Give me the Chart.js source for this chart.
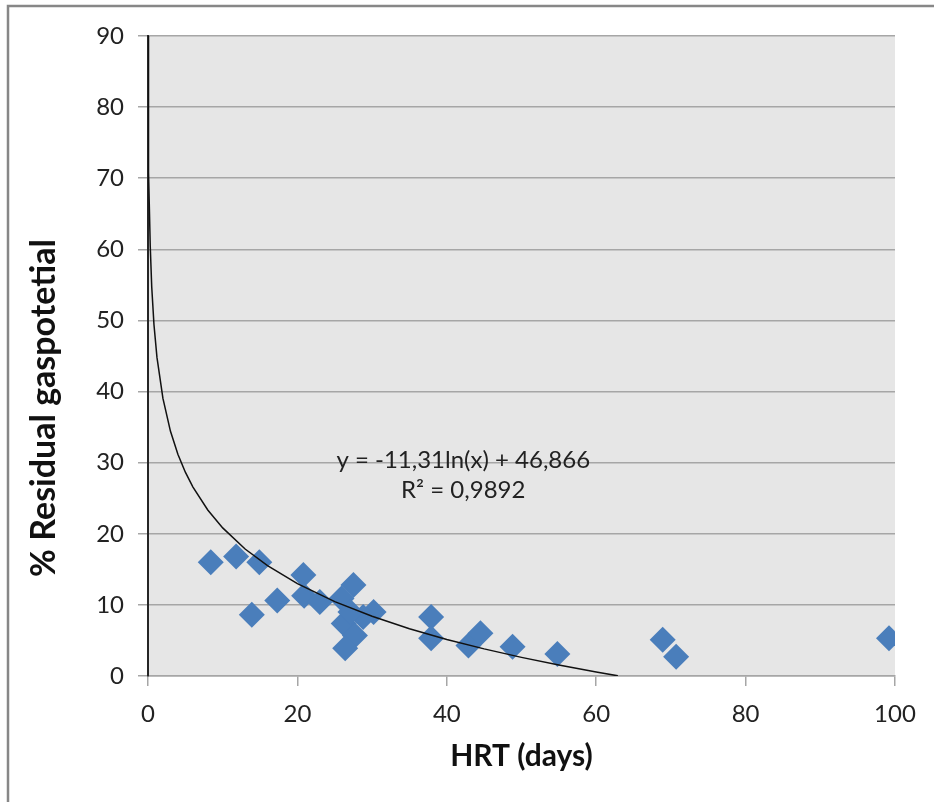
<!DOCTYPE html>
<html lang="en">
  <head>
    <meta charset="UTF-8" />
    <title>Residual gas potential vs HRT</title>
    <style>
      html, body { margin: 0; padding: 0; background: #fff; }
      .wrap { position: relative; width: 934px; height: 802px; }
    </style>
  </head>
  <body>
    <div class="wrap">
      <canvas id="hrtChart" width="934" height="802"></canvas>
    </div>

    <script src="https://cdn.jsdelivr.net/npm/chart.js@4.4.0/dist/chart.umd.min.js"></script>
    <script>
      // Observed points
      const hrtDays = [8.4, 11.8, 14.9, 13.9, 17.3, 20.8, 20.9, 23.0, 27.5, 25.9, 26.2, 27.7, 26.4, 30.2, 28.8, 27.1, 37.9, 37.9, 42.9, 44.5, 48.8, 54.8, 68.9, 70.7, 99.2];
      const residualGas = [16.0, 16.8, 16.0, 8.6, 10.6, 14.2, 11.3, 10.4, 12.8, 10.9, 7.4, 5.7, 3.9, 9.0, 8.3, 9.0, 8.3, 5.3, 4.3, 6.0, 4.1, 3.1, 5.1, 2.7, 5.3];

      // Log trendline as printed on the chart
      const trendSlope = -11.31;
      const trendIntercept = 46.866;
      const trendX = [0.02, 0.03, 0.05, 0.08, 0.12, 0.2, 0.3, 0.5, 0.8, 1.2, 2, 3, 4, 5, 6, 8, 10, 13, 16, 20, 25, 30, 35, 40, 45, 50, 55, 60, 62.9];

      const xTicks = [0, 20, 40, 60, 80, 100];
      const yTicks = [0, 10, 20, 30, 40, 50, 60, 70, 80, 90];

      const equationText = "y = -11,31ln(x) + 46,866";
      const r2Text = "R² = 0,9892";

      const pointData = hrtDays.map((x, i) => ({ x: x, y: residualGas[i] }));
      const trendData = trendX.map((x) => ({ x: x, y: trendSlope * Math.log(x) + trendIntercept }));

      const FONT = "Lato, 'Liberation Sans', sans-serif";

      // grey plot background + outer frame + labels
      const decorations = {
        id: "decorations",
        beforeDraw(chart) {
          const { ctx, chartArea: a } = chart;
          ctx.save();
          ctx.fillStyle = "#e6e6e6";
          ctx.fillRect(a.left, a.top, a.right - a.left, a.bottom - a.top);
          ctx.restore();
        },
        afterDraw(chart) {
          const { ctx, scales } = chart;
          ctx.save();
          // outer frame, only top and left are visible
          ctx.strokeStyle = "#878787";
          ctx.lineWidth = 2.5;
          ctx.beginPath();
          ctx.moveTo(8, 802);
          ctx.lineTo(8, 6);
          ctx.lineTo(934, 6);
          ctx.stroke();

          // trendline equation
          ctx.fillStyle = "#222";
          ctx.font = "24px " + FONT;
          ctx.textAlign = "center";
          ctx.textBaseline = "middle";
          const ex = scales.x.getPixelForValue(42.2);
          ctx.fillText(equationText, ex, scales.y.getPixelForValue(30.4));
          ctx.fillText(r2Text, ex, scales.y.getPixelForValue(26.1));

          // y axis title
          ctx.fillStyle = "#111";
          ctx.font = "bold 34px " + FONT;
          ctx.translate(44, 408);
          ctx.rotate(-Math.PI / 2);
          ctx.fillText("% Residual gaspotetial", 0, 0);
          ctx.restore();
        },
      };

      const ctx = document.getElementById("hrtChart").getContext("2d");
      const hrtChart = new Chart(ctx, {
        type: "scatter",
        data: {
          datasets: [
            {
              label: "Residual gas potential",
              data: pointData,
              pointStyle: "rectRot",
              pointRadius: 13,
              pointHoverRadius: 13,
              backgroundColor: "#4a7ebb",
              borderColor: "#4a7ebb",
              borderWidth: 0,
              order: 2,
            },
            {
              label: "Log. trendline",
              data: trendData,
              showLine: true,
              pointRadius: 0,
              borderColor: "#111",
              borderWidth: 1.5,
              fill: false,
              order: 1,
            },
          ],
        },
        options: {
          responsive: false,
          animation: false,
          events: [],
          layout: { padding: { top: 36, right: 39, left: 0, bottom: 0 } },
          plugins: {
            legend: { display: false },
            tooltip: { enabled: false },
          },
          scales: {
            x: {
              type: "linear",
              min: 0,
              max: 100,
              afterBuildTicks(scale) {
                scale.ticks = xTicks.map((v) => ({ value: v }));
              },
              afterFit(scale) {
                scale.height = 126;
              },
              ticks: {
                color: "#222",
                padding: 14,
                font: { size: 24, family: FONT },
              },
              grid: {
                drawOnChartArea: false,
                color: "#a6a6a6",
                lineWidth: 1.5,
                tickLength: 10,
              },
              border: { color: "#a6a6a6", width: 1.5 },
              title: {
                display: true,
                text: "HRT (days)",
                color: "#111",
                font: { size: 30, weight: "bold", family: FONT },
                padding: { top: 0, bottom: 28 },
              },
            },
            y: {
              type: "linear",
              min: 0,
              max: 90,
              afterBuildTicks(scale) {
                scale.ticks = yTicks.map((v) => ({ value: v }));
              },
              afterFit(scale) {
                scale.width = 148;
              },
              ticks: {
                color: "#222",
                padding: 14,
                font: { size: 24, family: FONT },
              },
              grid: {
                color: "#a6a6a6",
                lineWidth: 1.5,
                tickLength: 10,
              },
              border: { color: "#262626", width: 2 },
            },
          },
        },
        plugins: [decorations],
      });
    </script>
  </body>
</html>
